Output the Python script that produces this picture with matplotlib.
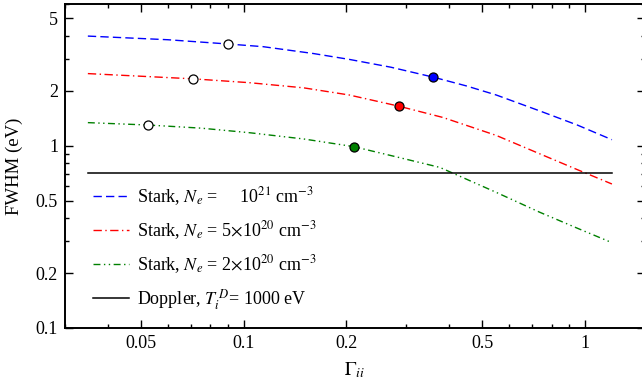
import matplotlib
matplotlib.use("Agg")
import matplotlib.pyplot as plt
from matplotlib.ticker import LogLocator, FixedLocator, FixedFormatter, NullFormatter

plt.rcParams['font.family'] = ['Liberation Serif', 'DejaVu Serif']
plt.rcParams['mathtext.fontset'] = 'stix'

# ---- data ----
g_blue = [0.035, 0.06, 0.09, 0.114, 0.16, 0.204, 0.27, 0.36, 0.45, 0.55, 0.74, 0.95, 1.2]
w_blue = [4.0, 3.82, 3.62, 3.50, 3.21, 2.98, 2.70, 2.38, 2.13, 1.90, 1.55, 1.30, 1.08]

g_red = [0.035, 0.0713, 0.104, 0.15, 0.204, 0.285, 0.384, 0.55, 0.737, 0.95, 1.2]
w_red = [2.49, 2.33, 2.22, 2.08, 1.90, 1.65, 1.43, 1.14, 0.904, 0.74, 0.617]

g_green = [0.035, 0.0526, 0.075, 0.104, 0.15, 0.21, 0.28, 0.376, 0.55, 0.737, 0.95, 1.2]
w_green = [1.34, 1.30, 1.25, 1.18, 1.09, 0.99, 0.87, 0.761, 0.555, 0.432, 0.353, 0.294]

g_doppler = [0.035, 1.2]
w_doppler = [0.71, 0.71]

open_g = [0.09, 0.0713, 0.0526]
open_w = [3.62, 2.33, 1.30]
filled_g = [0.36, 0.285, 0.21]
filled_w = [2.38, 1.65, 0.99]
filled_c = ['#0000ff', '#ff0000', '#008000']

xticks = [0.05, 0.1, 0.2, 0.5, 1]
xticklabels = ['0.05', '0.1', '0.2', '0.5', '1']
yticks = [0.1, 0.2, 0.5, 1, 2, 5]
yticklabels = ['0.1', '0.2', '0.5', '1', '2', '5']

labels = [r'Stark, $N_e$ =     10$^{21}$ cm$^{-3}$',
          r'Stark, $N_e$ = 5$\times$10$^{20}$ cm$^{-3}$',
          r'Stark, $N_e$ = 2$\times$10$^{20}$ cm$^{-3}$',
          r'Doppler, $T_i^{\,D}$= 1000 eV']

fig = plt.figure(figsize=(6.42, 3.89), dpi=100)
ax = fig.add_axes([65/642, 61/389, 580/642, 324/389])

ax.plot(g_blue, w_blue, color='#0000ff', lw=1.0, dashes=(6, 3), label=labels[0])
ax.plot(g_red, w_red, color='#ff0000', lw=1.0, dashes=(6, 2.5, 1, 2.5), label=labels[1])
ax.plot(g_green, w_green, color='#008000', lw=1.0, dashes=(5, 2.5, 1, 2.5, 1, 2.5), label=labels[2])
ax.plot(g_doppler, w_doppler, color='black', lw=1.1, label=labels[3])

ax.plot(open_g, open_w, 'o', ms=6.5, mfc='white', mec='black', mew=0.9, ls='none')
for g, w, c in zip(filled_g, filled_w, filled_c):
    ax.plot([g], [w], 'o', ms=6.5, mfc=c, mec='black', mew=0.9, ls='none')

ax.set_xscale('log')
ax.set_yscale('log')
ax.set_xlim(0.03, 1.5)
ax.set_ylim(0.1, 6)

ax.xaxis.set_major_locator(FixedLocator(xticks))
ax.xaxis.set_major_formatter(FixedFormatter(xticklabels))
ax.xaxis.set_minor_locator(LogLocator(base=10, subs=range(2, 10)))
ax.xaxis.set_minor_formatter(NullFormatter())
ax.yaxis.set_major_locator(FixedLocator(yticks))
ax.yaxis.set_major_formatter(FixedFormatter(yticklabels))
ax.yaxis.set_minor_locator(LogLocator(base=10, subs=range(2, 10)))
ax.yaxis.set_minor_formatter(NullFormatter())

ax.tick_params(which='both', direction='in', top=True, right=True, labelsize=13, width=1.0)
ax.tick_params(which='major', length=6, pad=5)
ax.tick_params(which='minor', length=3)
for s in ax.spines.values():
    s.set_linewidth(1.4)

ax.set_xlabel(r'$\Gamma_{ii}$', fontsize=14, labelpad=6)
ax.set_ylabel('FWHM (eV)', fontsize=13.5, labelpad=9)

leg = ax.legend(loc='upper left', bbox_to_anchor=(93/642, 1 - 185/389),
                bbox_transform=fig.transFigure, frameon=False, fontsize=13,
                handlelength=2.0, handletextpad=0.45, labelspacing=0.62,
                borderpad=0, borderaxespad=0)

fig.savefig('out.png', dpi=100)
